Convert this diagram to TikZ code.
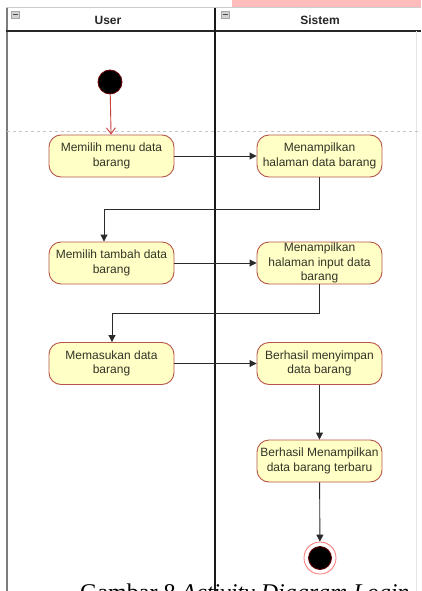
\documentclass[tikz,border=0pt]{standalone}
\usepackage{fontspec}
\setmainfont{Liberation Sans}
\newfontfamily\captionserif{Liberation Serif}
\usetikzlibrary{arrows.meta}

\definecolor{actfill}{HTML}{FFFFC6}
\definecolor{actedge}{HTML}{B8554A}
\definecolor{acttext}{HTML}{333328}
\definecolor{flowline}{HTML}{2A2A2A}
\definecolor{startred}{HTML}{C8403C}
\definecolor{lanegray}{HTML}{7C7C7C}
\definecolor{tabpink}{HTML}{FFBCBC}

\tikzset{
  activity/.style={draw=actedge, fill=actfill, line width=0.9pt,
    rounded corners=12pt, minimum width=125pt, minimum height=42pt,
    inner sep=0pt, align=center, text=acttext,
    font=\fontsize{12}{14.3}\selectfont},
  flow/.style={draw=flowline, line width=0.9pt,
    -{Triangle[length=7pt,width=7pt]}},
  startflow/.style={draw=startred, line width=0.9pt,
    -{Straight Barb[length=6pt,width=9pt]}},
  lanehead/.style={font=\fontsize{12}{14}\selectfont\bfseries, text=black!85},
  minusbox/.style={draw=gray!70, fill=gray!35, line width=0.5pt}
}

\begin{document}
\begin{tikzpicture}[x=1pt,y=-1pt]
  \clip (0,0) rectangle (421,591);
  \fill[white] (0,0) rectangle (421,591);

  % caption of the figure, partly below the page edge
  \node[anchor=base west, inner sep=0pt] (cap) at (80,600)
    {\captionserif\fontsize{24}{24}\selectfont Gambar 8 \textit{Activity Diagram Login}};

  % pink tab at the top
  \fill[tabpink] (232,0) rectangle (421,7);

  % swimlane frame
  \draw[gray!40, line width=1pt] (6,8) -- (421,8);
  \draw[lanegray, line width=2pt] (6.5,8) -- (6.5,591);
  \draw[black!85, line width=1.6pt] (6,31) -- (421,31);
  \draw[black!90, line width=2pt] (215,8) -- (215,591);
  \draw[gray!20, line width=0.6pt] (416,31) -- (416,591);
  \draw[gray!45, line width=0.8pt, dash pattern=on 3pt off 3pt] (7,131) -- (421,131);

  % lane headers
  \draw[minusbox] (11,11) rectangle (19,18);
  \draw[black!70, line width=0.6pt] (12.5,14.5) -- (17.5,14.5);
  \draw[minusbox] (221,11) rectangle (229,18);
  \draw[black!70, line width=0.6pt] (222.5,14.5) -- (227.5,14.5);
  \node[lanehead] (huser) at (108,20) {User};
  \node[lanehead] (hsys) at (320,20) {Sistem};

  % initial and final nodes
  \node[circle, fill=black, draw=red!45!black, line width=0.8pt,
        minimum size=24pt, inner sep=0pt] (start) at (110,82) {};
  \node[circle, draw=red!55, line width=0.8pt, minimum size=32pt,
        inner sep=0pt] (final) at (320,558) {};
  \node[circle, fill=black, draw=red!40!black, line width=0.8pt,
        minimum size=23pt, inner sep=0pt] (finalcore) at (320,558) {};

  % activities
  \node[activity] (n1) at (111.5,156) {Memilih menu data\\barang};
  \node[activity] (n2) at (319.5,156) {Menampilkan\\halaman data barang};
  \node[activity] (n3) at (111.5,263) {Memilih tambah data\\barang};
  \node[activity] (n4) at (319.5,263) {Menampilkan\\halaman input data\\barang};
  \node[activity] (n5) at (111.5,363.5) {Memasukan data\\barang};
  \node[activity] (n6) at (319.5,363.5) {Berhasil menyimpan\\data barang};
  \node[activity] (n7) at (319.5,461) {Berhasil Menampilkan\\data barang terbaru};

  % control flows
  \draw[startflow] (start) -- (n1);
  \draw[flow] (n1) -- (n2);
  \draw[flow] (n2.south) -- ++(0,32) -| ([xshift=-7.5pt]n3.north);
  \draw[flow] (n3) -- (n4);
  \draw[flow] (n4.south) -- ++(0,29) -| ([xshift=0.5pt]n5.north);
  \draw[flow] (n5) -- (n6);
  \draw[flow] (n6) -- (n7);
  \draw[flow] (n7) -- (final);
\end{tikzpicture}
\end{document}
